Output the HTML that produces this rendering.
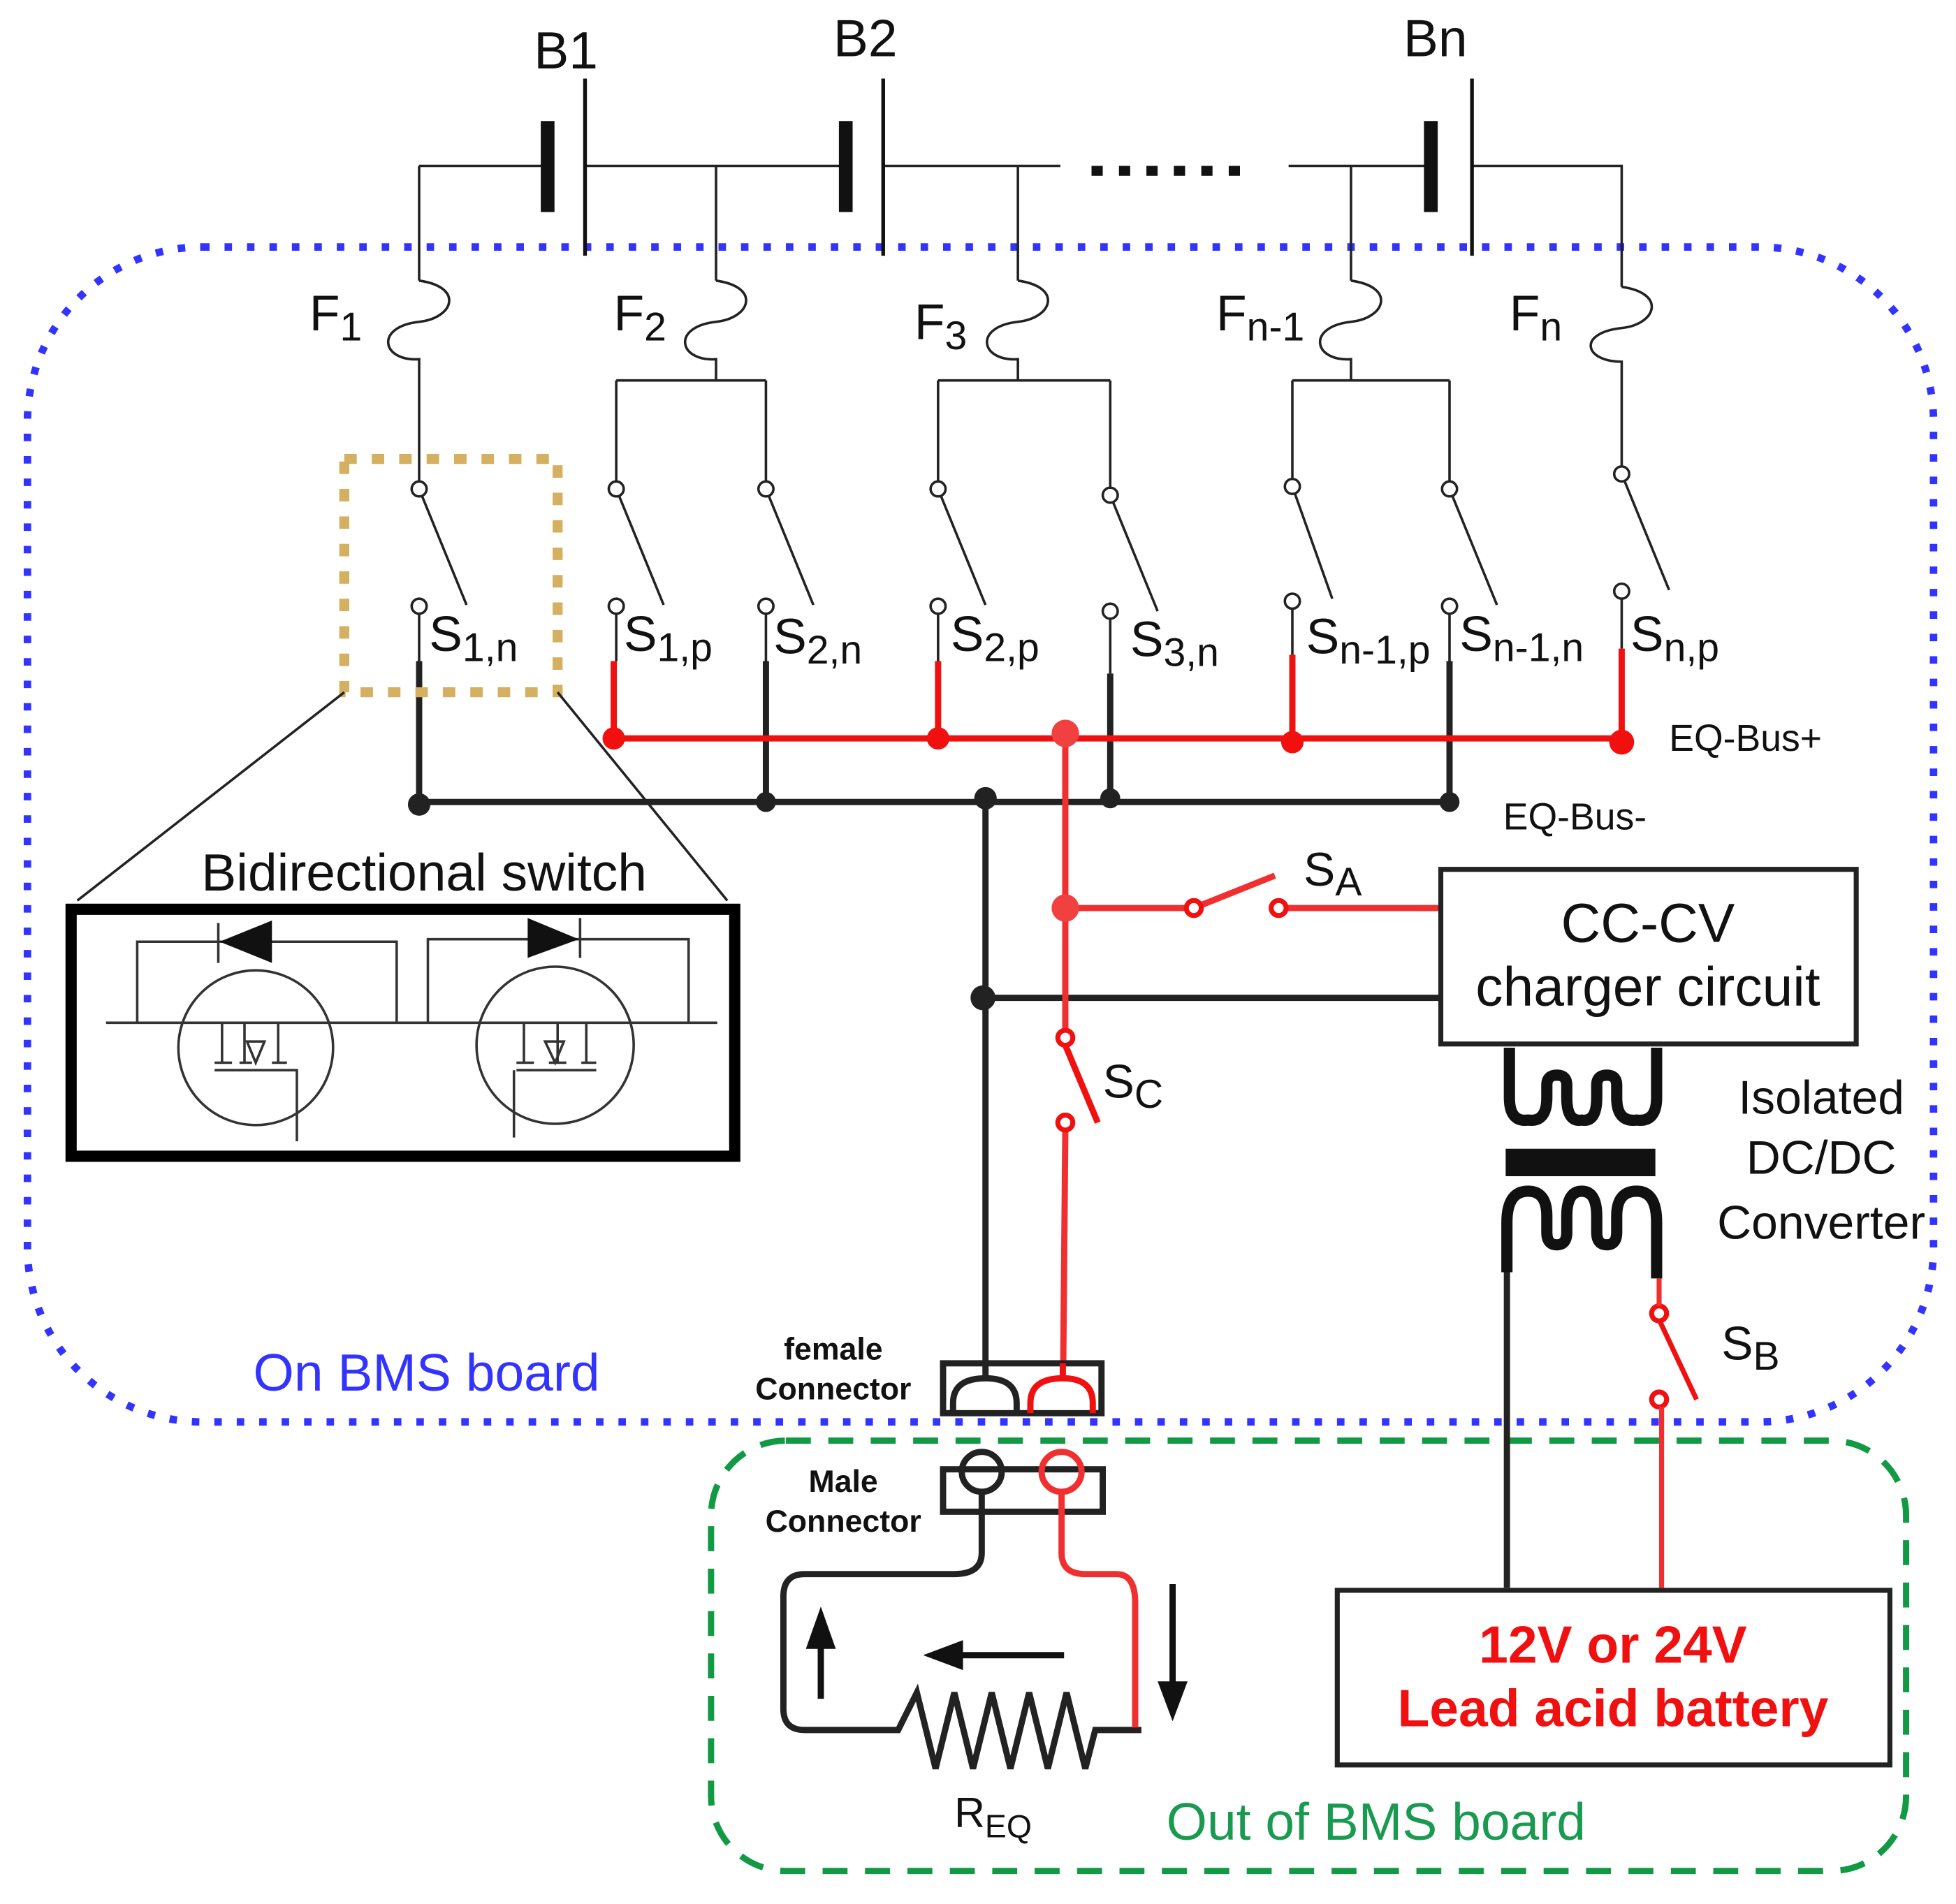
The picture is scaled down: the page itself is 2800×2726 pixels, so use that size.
<!DOCTYPE html>
<html><head><meta charset="utf-8"><style>html,body{margin:0;padding:0;background:#fff}svg{display:block}text{font-family:"Liberation Sans",Arial,sans-serif}</style></head><body>
<svg width="2800" height="2726" viewBox="0 0 1568 1526.5" preserveAspectRatio="none" xmlns="http://www.w3.org/2000/svg">
<rect x="22" y="198" width="1528" height="942" rx="140" fill="none" stroke="#3333ff" stroke-width="6" stroke-dasharray="6 12"/>
<rect x="570" y="1155" width="958" height="345" rx="60" fill="none" stroke="#119944" stroke-width="5" stroke-dasharray="20 14"/>
<text x="203" y="1115" font-size="42" fill="#3333ff">On BMS board</text>
<text x="935" y="1475" font-size="42" fill="#1a9a50">Out of BMS board</text>

<g stroke="#222" stroke-width="2" fill="none">
<path d="M336,133 H439 M469,133 H678 M708,133 H850 M1033,133 H1147 M1180,133 H1300 V230"/>
<path d="M336,133 V225 M574,133 V225 M816,133 V225 M1083,133 V225"/>
</g>
<g stroke="#111">
<line x1="439" y1="97" x2="439" y2="170" stroke-width="11"/>
<line x1="469" y1="63" x2="469" y2="205" stroke-width="3"/>
<line x1="678" y1="97" x2="678" y2="170" stroke-width="11"/>
<line x1="708" y1="63" x2="708" y2="205" stroke-width="3"/>
<line x1="1147" y1="97" x2="1147" y2="170" stroke-width="11"/>
<line x1="1180" y1="63" x2="1180" y2="205" stroke-width="3"/>
<line x1="875" y1="137" x2="1005" y2="137" stroke-width="8" stroke-dasharray="9 13"/>
</g>
<g font-size="42" fill="#111">
<text x="428" y="55">B1</text><text x="668" y="45">B2</text><text x="1125" y="45">Bn</text>
</g>
<g stroke="#222" stroke-width="2" fill="none">
<path d="M336,225 C372,230 364,255 336,258 C300,262 306,290 336,288 V392"/>
<path d="M574,225 C610,230 602,255 574,258 C538,262 544,290 574,288 V305 M494,305 H614 M494,305 V386 M614,305 V386"/>
<path d="M816,225 C852,230 844,255 816,258 C780,262 786,290 816,288 V305 M752,305 H890 M752,305 V386 M890,305 V391"/>
<path d="M1083,225 C1119,230 1111,255 1083,258 C1047,262 1053,290 1083,288 V305 M1036,305 H1162 M1036,305 V384 M1162,305 V386"/>
<path d="M1300,230 C1336,235 1328,260 1300,263 C1264,267 1270,290 1300,290 V374"/>
</g>
<g font-size="40" fill="#111">
<text x="248" y="265">F<tspan font-size="32" dy="8">1</tspan></text>
<text x="492" y="265">F<tspan font-size="32" dy="8">2</tspan></text>
<text x="733" y="272">F<tspan font-size="32" dy="8">3</tspan></text>
<text x="975" y="265">F<tspan font-size="32" dy="8">n-1</tspan></text>
<text x="1210" y="265">F<tspan font-size="32" dy="8">n</tspan></text>
</g>
<g stroke="#222" stroke-width="2" fill="#fff">
<line x1="336" y1="392" x2="374" y2="485"/><circle cx="336" cy="392" r="6"/><circle cx="336" cy="486" r="6"/>
<line x1="494" y1="392" x2="532" y2="485"/><circle cx="494" cy="392" r="6"/><circle cx="494" cy="486" r="6"/>
<line x1="614" y1="392" x2="652" y2="485"/><circle cx="614" cy="392" r="6"/><circle cx="614" cy="486" r="6"/>
<line x1="752" y1="392" x2="790" y2="485"/><circle cx="752" cy="392" r="6"/><circle cx="752" cy="486" r="6"/>
<line x1="890" y1="397" x2="928" y2="490"/><circle cx="890" cy="397" r="6"/><circle cx="890" cy="490" r="6"/>
<line x1="1036" y1="390" x2="1068" y2="480"/><circle cx="1036" cy="390" r="6"/><circle cx="1036" cy="482" r="6"/>
<line x1="1162" y1="392" x2="1200" y2="485"/><circle cx="1162" cy="392" r="6"/><circle cx="1162" cy="486" r="6"/>
<line x1="1300" y1="380" x2="1338" y2="473"/><circle cx="1300" cy="380" r="6"/><circle cx="1300" cy="474" r="6"/>
<path d="M336,492 V530 M494,492 V530 M614,492 V530 M752,492 V530 M890,496 V540 M1036,488 V525 M1162,492 V530 M1300,480 V520" fill="none"/>
</g>
<g font-size="40" fill="#111">
<text x="344" y="522">S<tspan font-size="32" dy="8">1,n</tspan></text>
<text x="500" y="522">S<tspan font-size="32" dy="8">1,p</tspan></text>
<text x="620" y="524">S<tspan font-size="32" dy="8">2,n</tspan></text>
<text x="762" y="522">S<tspan font-size="32" dy="8">2,p</tspan></text>
<text x="906" y="526">S<tspan font-size="32" dy="8">3,n</tspan></text>
<text x="1047" y="524">S<tspan font-size="32" dy="8">n-1,p</tspan></text>
<text x="1170" y="522">S<tspan font-size="32" dy="8">n-1,n</tspan></text>
<text x="1307" y="522">S<tspan font-size="32" dy="8">n,p</tspan></text>
</g>
<g stroke="#222" stroke-width="5" fill="none">
<path d="M336,530 V643 M614,530 V643 M890,540 V643 M1162,530 V643 M336,643 H1162 M790,643 V1110 M790,800 H1155"/>
</g>
<g fill="#222"><circle cx="336" cy="645" r="9"/><circle cx="614" cy="643" r="8"/><circle cx="790" cy="640" r="9"/><circle cx="890" cy="640" r="8"/><circle cx="1162" cy="643" r="8"/><circle cx="788" cy="800" r="10"/></g>
<g stroke="#f01010" stroke-width="5" fill="none">
<path d="M492,530 V592 M752,530 V592 M1036,525 V592 M1300,520 V592 M492,592 H1300"/>
<path d="M854,588 V826 M854,728 H951 M957,728 L1022,702 M1031,728 H1155 M854,906 L852,1130" stroke="#f03030"/>
<line x1="854" y1="838" x2="880" y2="900" stroke="#f01010"/>
</g>
<g fill="#f01010"><circle cx="492" cy="592" r="9"/><circle cx="752" cy="592" r="9"/><circle cx="1036" cy="595" r="9"/><circle cx="1300" cy="595" r="10"/><circle cx="854" cy="588" r="11" fill="#f04040"/><circle cx="854" cy="728" r="11" fill="#f04040"/></g>
<g fill="#fff" stroke="#f01010" stroke-width="4"><circle cx="957" cy="728" r="6"/><circle cx="1025" cy="728" r="6"/><circle cx="854" cy="832" r="6"/><circle cx="854" cy="900" r="6"/><circle cx="1330" cy="1053" r="6"/><circle cx="1330" cy="1122" r="6"/></g>
<text x="1338" y="602" font-size="30" fill="#111">EQ-Bus+</text>
<text x="1205" y="665" font-size="30" fill="#111">EQ-Bus-</text>
<text x="1045" y="710" font-size="38" fill="#111">S<tspan font-size="32" dy="8">A</tspan></text>
<text x="884" y="880" font-size="38" fill="#111">S<tspan font-size="32" dy="8">C</tspan></text>
<text x="1380" y="1090" font-size="38" fill="#111">S<tspan font-size="32" dy="8">B</tspan></text>
<rect x="1155" y="697" width="333" height="140" fill="#fff" stroke="#222" stroke-width="4"/>
<text x="1321" y="755" font-size="44" text-anchor="middle" fill="#111">CC-CV</text>
<text x="1321" y="806" font-size="44" text-anchor="middle" fill="#111">charger circuit</text>
<g stroke="#111" stroke-width="9" fill="none">
<path d="M1210,840 V880 Q1210,900 1225,898 Q1240,900 1240,880 V870 Q1240,862 1248,862 Q1256,862 1256,870 V880 Q1256,900 1268,898 Q1280,900 1280,880 V870 Q1280,862 1288,862 Q1296,862 1296,870 V880 Q1296,900 1312,898 Q1328,900 1328,880 V840"/>
<path d="M1208,1020 V980 Q1208,955 1225,955 Q1240,955 1240,975 V988 Q1240,998 1248,998 Q1256,998 1256,988 V975 Q1256,955 1268,955 Q1280,955 1280,975 V988 Q1280,998 1288,998 Q1296,998 1296,988 V975 Q1296,955 1312,955 Q1328,955 1328,980 V1025"/>
</g>
<rect x="1207" y="921" width="120" height="22" fill="#111"/>
<path d="M1208,1020 V1273" stroke="#222" stroke-width="5"/>
<path d="M1330,1025 V1047 M1332,1128 V1273" stroke="#f03030" stroke-width="4"/>
<line x1="1330" y1="1058" x2="1360" y2="1122" stroke="#f01010" stroke-width="4"/>
<g font-size="38" fill="#111" text-anchor="middle"><text x="1460" y="893">Isolated</text><text x="1460" y="941">DC/DC</text><text x="1460" y="993">Converter</text></g>
<rect x="1072" y="1275" width="443" height="140" fill="#fff" stroke="#222" stroke-width="4"/>
<text x="1293" y="1333" font-size="42" font-weight="bold" text-anchor="middle" fill="#f01010">12V or 24V</text>
<text x="1293" y="1384" font-size="42" font-weight="bold" text-anchor="middle" fill="#f01010">Lead acid battery</text>
<rect x="756" y="1093" width="127" height="40" fill="#fff" stroke="#222" stroke-width="5"/>
<path d="M764,1133 V1125 Q764,1105 790,1105 Q815,1105 815,1125 V1133" fill="none" stroke="#222" stroke-width="5"/>
<path d="M826,1133 V1125 Q826,1105 852,1105 Q876,1105 876,1125 V1133" fill="none" stroke="#f01010" stroke-width="5"/>
<path d="M790,1093 V1105" stroke="#222" stroke-width="5"/><path d="M852,1093 V1105" stroke="#f01010" stroke-width="5"/>
<rect x="756" y="1178" width="128" height="34" fill="none" stroke="#222" stroke-width="5"/>
<circle cx="787" cy="1180" r="16" fill="none" stroke="#222" stroke-width="5"/>
<circle cx="851" cy="1180" r="16" fill="none" stroke="#f03030" stroke-width="5"/>
<g font-size="25" font-weight="bold" fill="#111" text-anchor="middle"><text x="668" y="1090">female</text><text x="668" y="1122">Connector</text><text x="676" y="1196">Male</text><text x="676" y="1228">Connector</text></g>
<path d="M787,1196 V1245 Q787,1262 765,1262 H645 Q628,1262 628,1280 V1370 Q628,1387 645,1387 H720 L735,1357 L750,1418 L765,1357 L780,1418 L795,1357 L810,1418 L825,1357 L840,1418 L855,1357 L870,1418 L878,1387 H915" fill="none" stroke="#222" stroke-width="5"/>
<path d="M851,1196 V1245 Q851,1262 870,1262 H895 Q910,1262 910,1285 V1385" fill="none" stroke="#f03030" stroke-width="5"/>
<g stroke="#111" stroke-width="5"><line x1="658" y1="1362" x2="658" y2="1305"/><line x1="853" y1="1327" x2="760" y2="1327"/><line x1="940" y1="1270" x2="940" y2="1360"/></g>
<g fill="#111"><path d="M658,1288 L646,1322 L670,1322 Z"/><path d="M740,1327 L772,1315 L772,1339 Z"/><path d="M940,1380 L928,1348 L952,1348 Z"/></g>
<text x="765" y="1465" font-size="34" fill="#111">R<tspan font-size="26" dy="8">EQ</tspan></text>
<rect x="276" y="368" width="171" height="187" fill="none" stroke="#d4b060" stroke-width="8" stroke-dasharray="10 12"/>
<line x1="276" y1="555" x2="62" y2="722" stroke="#222" stroke-width="2"/>
<line x1="447" y1="555" x2="583" y2="722" stroke="#222" stroke-width="2"/>
<text x="340" y="714" font-size="42" text-anchor="middle" fill="#111">Bidirectional switch</text>
<rect x="57" y="729" width="532" height="198" fill="#fff" stroke="#000" stroke-width="9"/>
<g stroke="#333" stroke-width="2" fill="none">
<path d="M85,820 H575 M110,820 V755 H318 V820 M343,820 V753 H552 V820"/>
<circle cx="205" cy="840" r="62"/><circle cx="445" cy="838" r="63"/>
<path d="M178,820 V852 M196,820 V852 M223,820 V852 M172,852 H186 M192,852 H202 M218,852 H230 M172,858 H238 V915"/>
<path d="M470,820 V852 M447,820 V852 M420,820 V852 M414,852 H428 M440,852 H454 M466,852 H478 M414,858 H478 M412,858 V912"/>
<path d="M198,835 H212 L205,852 Z M437,835 H452 L445,852 Z"/>
<line x1="175" y1="740" x2="175" y2="772"/><line x1="465" y1="736" x2="465" y2="768"/>
</g>
<path d="M176,755 L218,738 L218,772 Z" fill="#111"/>
<path d="M464,753 L423,736 L423,768 Z" fill="#111"/>
</svg>
</body></html>
